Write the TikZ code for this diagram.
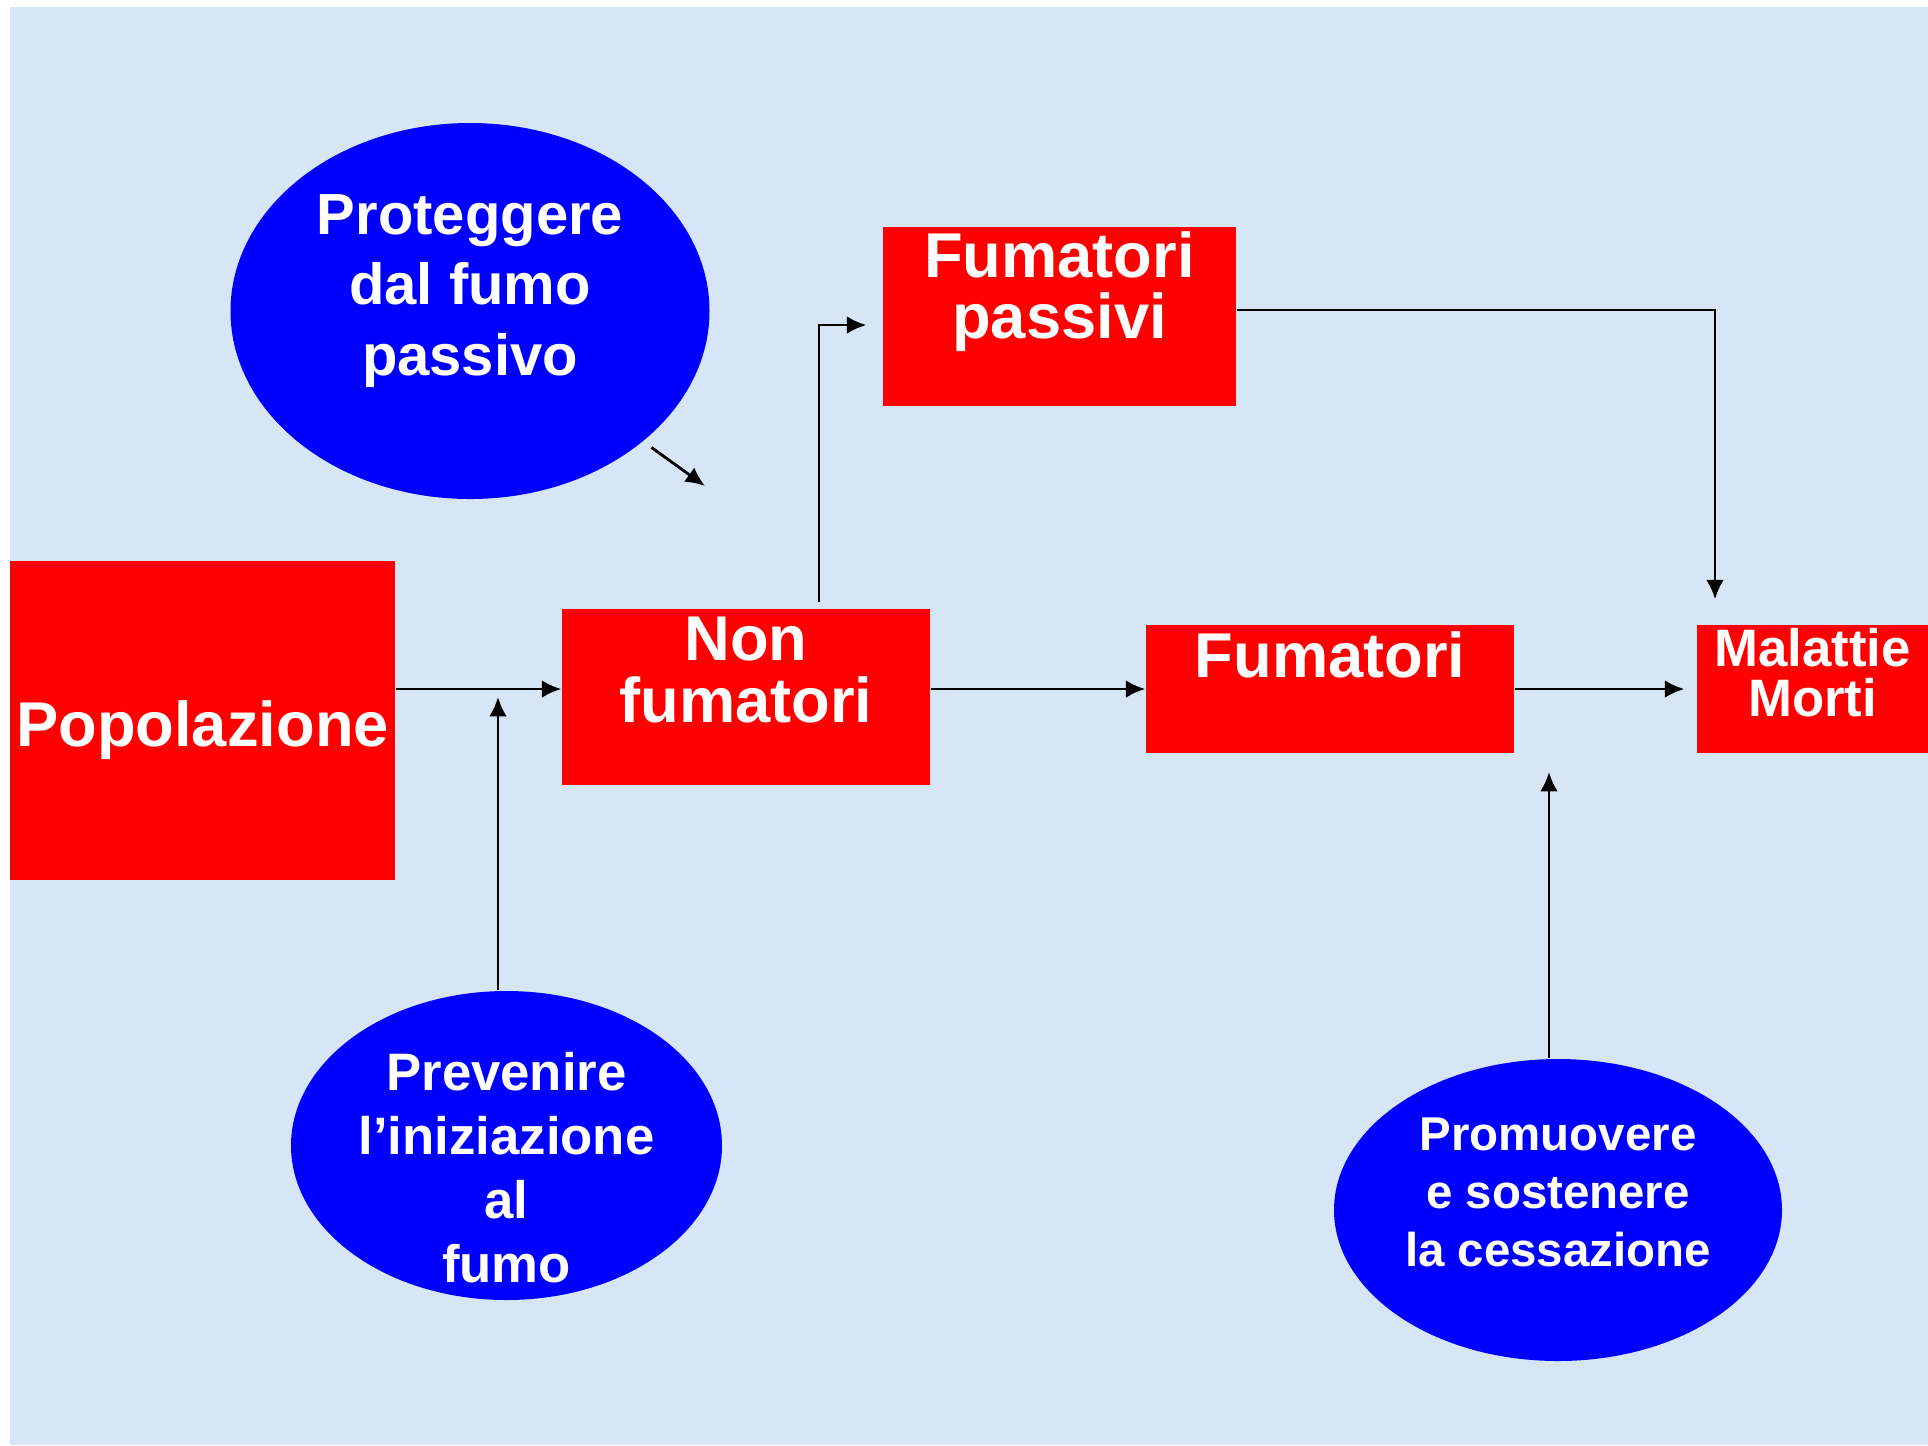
\documentclass[tikz,border=0pt]{standalone}
\usepackage{fontspec}
\setmainfont{Liberation Sans}
\usetikzlibrary{shapes.geometric, arrows.meta}
\definecolor{bgblue}{RGB}{214,230,246}
\definecolor{boxred}{RGB}{255,0,0}
\definecolor{ovalblue}{RGB}{0,0,255}
\tikzset{
  redbox/.style={fill=boxred, inner sep=0pt},
  blueoval/.style={ellipse, fill=ovalblue, inner sep=0pt},
  whitetext/.style={text=white, align=center, inner sep=0pt},
  arr/.style={thick, -{Latex[length=5.5pt, width=5pt]}},
}
\begin{document}
\begin{tikzpicture}[x=1cm, y=-1cm]
  \useasboundingbox (0, 0) rectangle (19.28, 14.45);
  \fill[bgblue] (0.10, 0.07) rectangle (19.28, 14.45);
  % red boxes
  \node[redbox, minimum width=3.85cm, minimum height=3.19cm] (pop) at (2.025, 7.205) {};
  \node[redbox, minimum width=3.68cm, minimum height=1.76cm] (nonsmk) at (7.46, 6.97) {};
  \node[redbox, minimum width=3.53cm, minimum height=1.79cm] (passive) at (10.595, 3.165) {};
  \node[redbox, minimum width=3.68cm, minimum height=1.28cm] (smk) at (13.30, 6.89) {};
  \node[redbox, minimum width=2.31cm, minimum height=1.28cm] (harm) at (18.125, 6.89) {};
  \node[whitetext, font=\bfseries\fontsize{18}{17.4}\selectfont] (poptext) at (2.025, 7.305) {Popolazione};
  \node[whitetext, font=\bfseries\fontsize{18}{17.4}\selectfont] (nonsmktext) at (7.46, 6.70) {Non\\fumatori};
  \node[whitetext, font=\bfseries\fontsize{18}{17.4}\selectfont] (passivetext) at (10.595, 2.92) {Fumatori\\passivi};
  \node[whitetext, font=\bfseries\fontsize{18}{17.4}\selectfont] (smktext) at (13.30, 6.55) {Fumatori};
  \node[whitetext, font=\bfseries\fontsize{15}{14.2}\selectfont] (harmtext) at (18.125, 6.73) {Malattie\\Morti};
  % blue ovals
  \node[blueoval, minimum width=4.79cm, minimum height=3.76cm] (protect) at (4.70, 3.11) {};
  \node[blueoval, minimum width=4.31cm, minimum height=3.09cm] (prevent) at (5.065, 11.455) {};
  \node[blueoval, minimum width=4.48cm, minimum height=3.02cm] (quit) at (15.58, 12.10) {};
  \node[whitetext, font=\bfseries\fontsize{16.5}{20}\selectfont] (protecttext) at (4.70, 2.91) {Proteggere\\dal fumo\\passivo};
  \node[whitetext, font=\bfseries\fontsize{15}{18.2}\selectfont] (preventtext) at (5.065, 11.68) {Prevenire\\l’iniziazione\\al\\fumo};
  \node[whitetext, font=\bfseries\fontsize{13.5}{16.5}\selectfont] (quittext) at (15.58, 11.92) {Promuovere\\e sostenere\\la cessazione};
  % connectors
  \coordinate (passivebend) at (8.19, 3.25);
  \coordinate (harmbend) at (17.15, 3.10);
  \coordinate (preventtip) at (4.98, 6.97);
  \coordinate (quittip) at (15.49, 7.72);
  \coordinate (protecttip) at (7.05, 4.86);
  \draw[arr] (pop.east |- smk.west) -- (nonsmk.west |- smk.west);
  \draw[arr] (nonsmk.east |- smk.west) -- (smk.west);
  \draw[arr, shorten >=1.2mm] (smk.east) -- (harm.west);
  \draw[arr, shorten <=0.6mm, shorten >=1.6mm] (nonsmk.north -| passivebend) -- (passivebend) -- (passive.west |- passivebend);
  \draw[arr, shorten >=2.5mm] (passive.east |- harmbend) -- (harmbend) -- (harm.north -| harmbend);
  \draw[arr] (prevent.north -| preventtip) -- (preventtip);
  \draw[arr] (quit.north -| quittip) -- (quittip);
  \draw[arr, shorten <=1mm] (protect.-37) -- (protecttip);
\end{tikzpicture}
\end{document}
